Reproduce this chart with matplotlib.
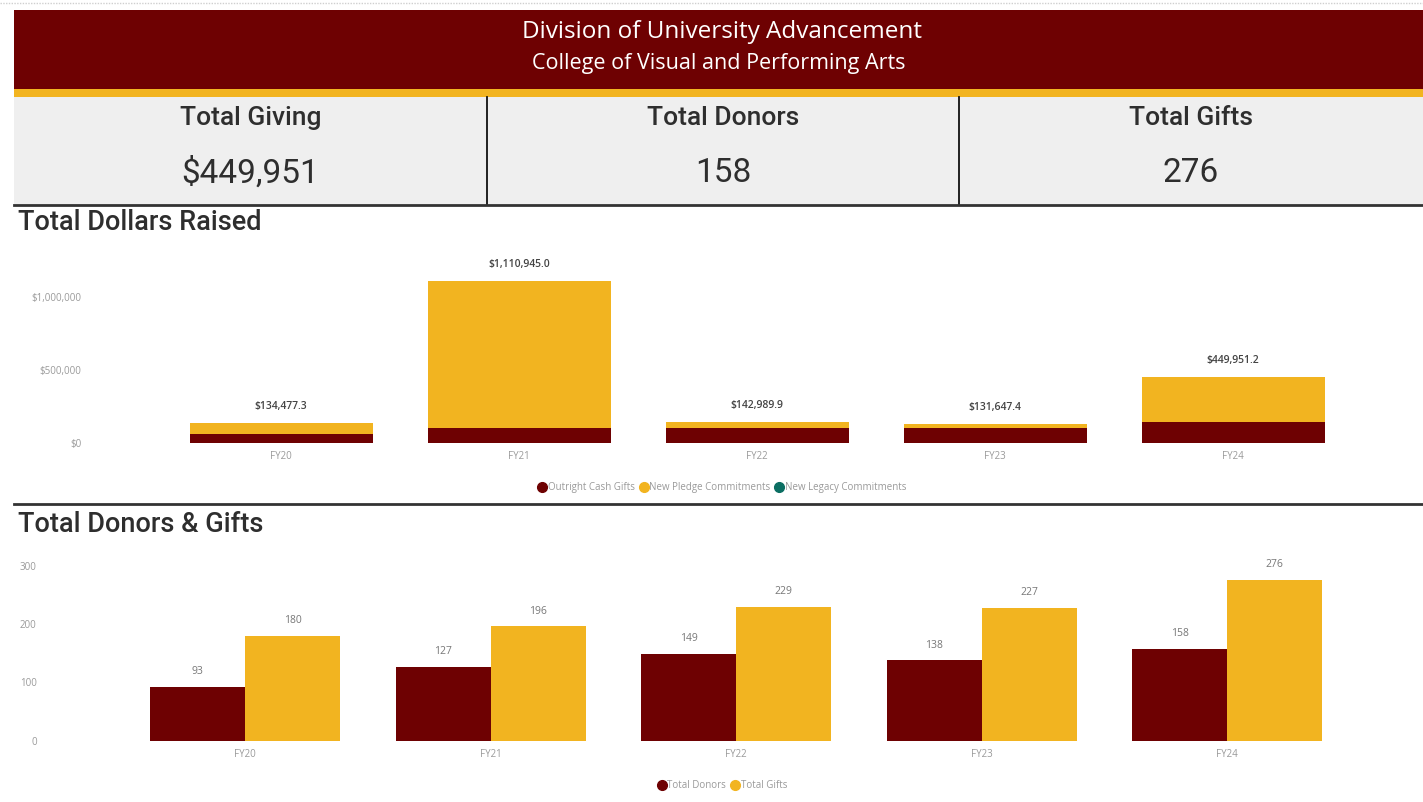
import matplotlib
matplotlib.use("Agg")
import matplotlib.pyplot as plt
from matplotlib.patches import Rectangle
from matplotlib.lines import Line2D
from matplotlib.ticker import FuncFormatter

plt.rcParams['font.family'] = ['Open Sans', 'DejaVu Sans']

W, H = 1423, 802

MAROON = '#6e0102'
GOLD = '#f2b420'
TEAL = '#0b6e62'
GRAY = '#9a9a9a'
DIN = ['Roboto', 'DejaVu Sans']

# data
years = ['FY20', 'FY21', 'FY22', 'FY23', 'FY24']
outright_cash = [62000, 103000, 105000, 100000, 144000]
pledge = [72477.3, 1007945.0, 37989.9, 31647.4, 305951.2]
legacy = [0, 0, 0, 0, 0]
dollar_totals = [134477.3, 1110945.0, 142989.9, 131647.4, 449951.2]

total_donors = [93, 127, 149, 138, 158]
total_gifts = [180, 196, 229, 227, 276]

kpi_titles = ['Total Giving', 'Total Donors', 'Total Gifts']
kpi_values = ['$449,951', '158', '276']


def px(l, t, r, b):
    return [l / W, 1 - b / H, (r - l) / W, (b - t) / H]


fig = plt.figure(figsize=(W / 100, H / 100), dpi=100)

# background canvas in pixel coords
bg = fig.add_axes([0, 0, 1, 1], zorder=0)
bg.set_xlim(0, W)
bg.set_ylim(H, 0)
bg.axis('off')

bg.plot([0, W], [3, 3], color='#cfcfcf', lw=1, ls=(0, (1, 1)))
bg.add_patch(Rectangle((14, 10), W - 14, 79, color=MAROON, lw=0))
bg.add_patch(Rectangle((14, 89), W - 14, 8, color=GOLD, lw=0))
bg.text(722, 32, 'Division of University Advancement', color='white',
        fontsize=17.5, ha='center', va='center')
bg.text(719, 63, 'College of Visual and Performing Arts', color='white',
        fontsize=15.5, ha='center', va='center')

# KPI cards
bg.add_patch(Rectangle((14, 97), W - 14, 108, color='#efefef', lw=0))
card_edges = [14, 487, 959, W]
for i in range(3):
    cx = (card_edges[i] + card_edges[i + 1]) / 2
    bg.text(cx, 118, kpi_titles[i], fontsize=19, ha='center', va='center',
            color='#2e2e2e', family=DIN, fontweight='medium')
    bg.text(cx, 173, kpi_values[i], fontsize=24, ha='center', va='center',
            color='#2e2e2e', family=DIN)
for x in (487, 959):
    bg.plot([x, x], [97, 205], color='#111111', lw=1.3)
bg.plot([14, W], [205, 205], color='#333333', lw=2)

bg.text(18, 223, 'Total Dollars Raised', fontsize=19.5, ha='left', va='center',
        color='#2e2e2e', family=DIN, fontweight='medium')
bg.plot([14, W], [504, 504], color='#333333', lw=2)
bg.text(18, 525, 'Total Donors & Gifts', fontsize=19.5, ha='left', va='center',
        color='#2e2e2e', family=DIN, fontweight='medium')

# top chart: stacked dollars
ax1 = fig.add_axes(px(90, 255, 1353, 443), zorder=2)
ax1.patch.set_alpha(0)
c0, sp = 281, 238
ax1.set_xlim((90 - c0) / sp, (1353 - c0) / sp)
ax1.set_ylim(0, 188 / 146 * 1e6)
xs = list(range(len(years)))
bw = 183 / sp
ax1.bar(xs, outright_cash, width=bw, color=MAROON)
ax1.bar(xs, pledge, width=bw, bottom=outright_cash, color=GOLD)
base2 = [a + b for a, b in zip(outright_cash, pledge)]
ax1.bar(xs, legacy, width=bw, bottom=base2, color=TEAL)
for x, t in zip(xs, dollar_totals):
    ax1.annotate(f'${t:,.1f}', (x, t), xytext=(0, 8), textcoords='offset points',
                 ha='center', va='bottom', fontsize=7.5, color='#444444',
                 fontweight='semibold')
ax1.set_xticks(xs)
ax1.set_xticklabels(years)
ax1.set_yticks([0, 500000, 1000000])
ax1.yaxis.set_major_formatter(FuncFormatter(lambda v, p: f'${v:,.0f}'))
ax1.tick_params(length=0, labelsize=7, colors=GRAY, pad=6)
for s in ax1.spines.values():
    s.set_visible(False)

h1 = [Line2D([], [], marker='o', ls='', color=c, markersize=7)
      for c in (MAROON, GOLD, TEAL)]
fig.legend(h1, ['Outright Cash Gifts', 'New Pledge Commitments', 'New Legacy Commitments'],
           loc='center', bbox_to_anchor=(722 / W, 1 - 488 / H), ncol=3, frameon=False,
           fontsize=7, labelcolor=GRAY, handletextpad=0.1, columnspacing=0.4,
           handlelength=1)

# bottom chart: donors & gifts
ax2 = fig.add_axes(px(45, 555, 1350, 741), zorder=2)
ax2.patch.set_alpha(0)
c0, sp = 245, 245.5
ax2.set_xlim((45 - c0) / sp, (1350 - c0) / sp)
ax2.set_ylim(0, 186 / 0.585)
bw = 95 / sp
xd = [x - bw / 2 for x in xs]
xg = [x + bw / 2 for x in xs]
ax2.bar(xd, total_donors, width=bw, color=MAROON)
ax2.bar(xg, total_gifts, width=bw, color=GOLD)
for x, v in zip(xd, total_donors):
    ax2.annotate(str(v), (x, v), xytext=(0, 7), textcoords='offset points',
                 ha='center', va='bottom', fontsize=7.5, color='#777777')
for x, v in zip(xg, total_gifts):
    ax2.annotate(str(v), (x, v), xytext=(0, 7), textcoords='offset points',
                 ha='center', va='bottom', fontsize=7.5, color='#777777')
ax2.set_xticks(xs)
ax2.set_xticklabels(years)
ax2.set_yticks([0, 100, 200, 300])
ax2.tick_params(length=0, labelsize=7, colors=GRAY, pad=6)
for s in ax2.spines.values():
    s.set_visible(False)

h2 = [Line2D([], [], marker='o', ls='', color=c, markersize=7) for c in (MAROON, GOLD)]
fig.legend(h2, ['Total Donors', 'Total Gifts'],
           loc='center', bbox_to_anchor=(722 / W, 1 - 786 / H), ncol=2, frameon=False,
           fontsize=7, labelcolor=GRAY, handletextpad=0.1, columnspacing=0.4,
           handlelength=1)

fig.savefig('out.png', dpi=100, facecolor='white')
